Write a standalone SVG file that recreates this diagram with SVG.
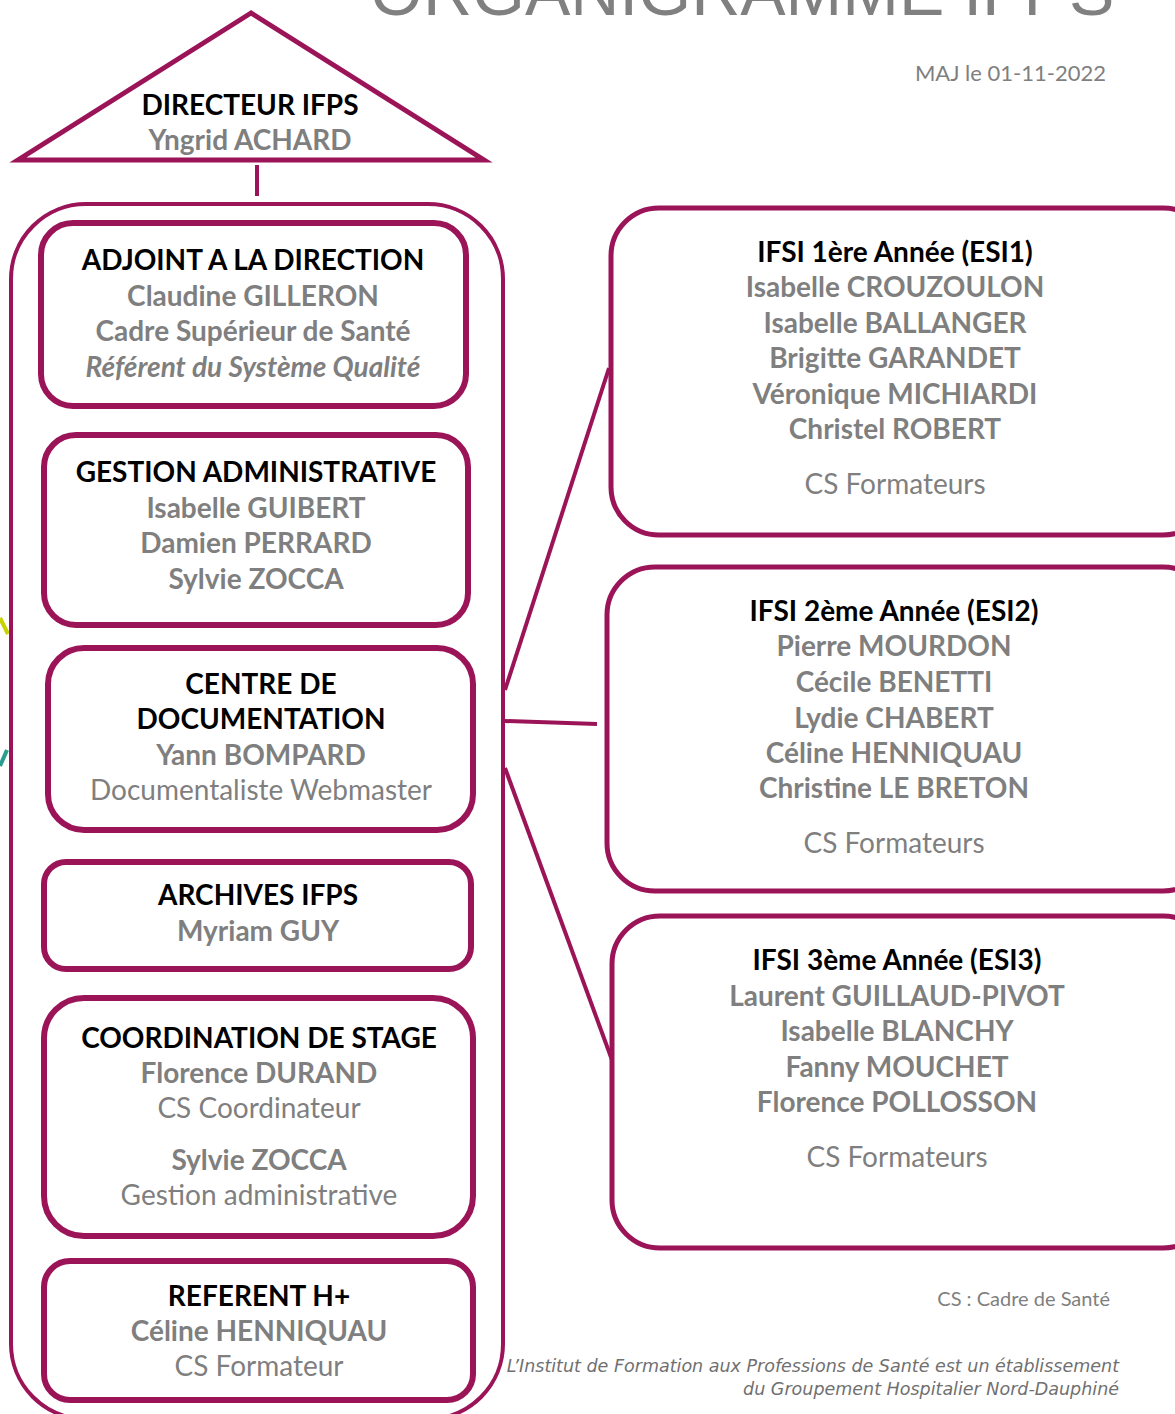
<svg xmlns="http://www.w3.org/2000/svg" width="1175" height="1414" viewBox="0 0 1175 1414">
<style>
.box{fill:#fff;stroke:#9B1458;stroke-width:6}
.outer{fill:none;stroke:#9B1458;stroke-width:4}
.rbox{fill:#fff;stroke:#9B1458;stroke-width:5}
.conn{stroke:#9B1458;stroke-width:4;fill:none}
text{font-family:Lato,"Open Sans","Liberation Sans",sans-serif;text-anchor:middle;font-size:28px}
.t{fill:#000;font-weight:bold}
.n{fill:#7f7f7f;font-weight:bold}
.r{fill:#7f7f7f;font-weight:normal}
.i{fill:#7f7f7f;font-weight:bold;font-style:italic}
</style>
<rect width="1175" height="1414" fill="#fff"/>
<text x="370" y="15" style="font-family:'Liberation Sans',Arial,sans-serif;font-size:68px;text-anchor:start;fill:#808080">ORGANIGRAMME IFPS</text>
<text x="1106" y="81" class="r" style="text-anchor:end;font-size:22px">MAJ le 01-11-2022</text>
<line x1="0" y1="618" x2="8" y2="634" stroke="#C8D400" stroke-width="4"/>
<line x1="0" y1="766" x2="7" y2="750" stroke="#2A9D8F" stroke-width="4"/>
<g id="connectors">
<line class="conn" x1="257" y1="165" x2="257" y2="196"/>
<line class="conn" x1="505" y1="690" x2="609" y2="368"/>
<line class="conn" x1="505" y1="721" x2="597" y2="724"/>
<line class="conn" x1="505" y1="768" x2="612" y2="1060"/>
</g>
<g id="directeur">
<polygon points="251,13 18,160 484,160" fill="#fff" stroke="#9B1458" stroke-width="5"/>
<text x="250" y="115" class="t">DIRECTEUR IFPS</text>
<text x="250" y="150" class="n">Yngrid ACHARD</text>
</g>
<g id="services">
<rect class="outer" x="11" y="204" width="492" height="1215" rx="75"/>
</g>
<g id="adjoint">
<rect class="box" x="41" y="223" width="425" height="183" rx="32"/>
<text x="253" y="270" class="t">ADJOINT A LA DIRECTION</text>
<text x="253" y="306" class="n">Claudine GILLERON</text>
<text x="253" y="341" class="n">Cadre Supérieur de Santé</text>
<text x="253" y="377" class="i">Référent du Système Qualité</text>
</g>
<g id="gestion">
<rect class="box" x="44" y="435" width="424" height="190" rx="32"/>
<text x="256" y="482" class="t">GESTION ADMINISTRATIVE</text>
<text x="256" y="518" class="n">Isabelle GUIBERT</text>
<text x="256" y="553" class="n">Damien PERRARD</text>
<text x="256" y="589" class="n">Sylvie ZOCCA</text>
</g>
<g id="documentation">
<rect class="box" x="48" y="648" width="425" height="182" rx="36"/>
<text x="261" y="694" class="t">CENTRE DE</text>
<text x="261" y="729" class="t">DOCUMENTATION</text>
<text x="261" y="765" class="n">Yann BOMPARD</text>
<text x="261" y="800" class="r">Documentaliste Webmaster</text>
</g>
<g id="archives">
<rect class="box" x="44" y="862" width="427" height="107" rx="22"/>
<text x="258" y="905" class="t">ARCHIVES IFPS</text>
<text x="258" y="941" class="n">Myriam GUY</text>
</g>
<g id="coordination">
<rect class="box" x="44" y="998" width="429" height="238" rx="40"/>
<text x="259" y="1048" class="t">COORDINATION DE STAGE</text>
<text x="259" y="1083" class="n">Florence DURAND</text>
<text x="259" y="1118" class="r">CS Coordinateur</text>
<text x="259" y="1170" class="n">Sylvie ZOCCA</text>
<text x="259" y="1205" class="r">Gestion administrative</text>
</g>
<g id="referent">
<rect class="box" x="44" y="1261" width="429" height="139" rx="26"/>
<text x="259" y="1306" class="t">REFERENT H+</text>
<text x="259" y="1341" class="n">Céline HENNIQUAU</text>
<text x="259" y="1376" class="r">CS Formateur</text>
</g>
<g id="esi1">
<rect class="rbox" x="611" y="208" width="600" height="327" rx="48"/>
<text x="895" y="262" class="t">IFSI 1ère Année (ESI1)</text>
<text x="895" y="297" class="n">Isabelle CROUZOULON</text>
<text x="895" y="333" class="n">Isabelle BALLANGER</text>
<text x="895" y="368" class="n">Brigitte GARANDET</text>
<text x="895" y="404" class="n">Véronique MICHIARDI</text>
<text x="895" y="439" class="n">Christel ROBERT</text>
<text x="895" y="494" class="r">CS Formateurs</text>
</g>
<g id="esi2">
<rect class="rbox" x="607" y="567" width="604" height="324" rx="48"/>
<text x="894" y="621" class="t">IFSI 2ème Année (ESI2)</text>
<text x="894" y="656" class="n">Pierre MOURDON</text>
<text x="894" y="692" class="n">Cécile BENETTI</text>
<text x="894" y="728" class="n">Lydie CHABERT</text>
<text x="894" y="763" class="n">Céline HENNIQUAU</text>
<text x="894" y="798" class="n">Christine LE BRETON</text>
<text x="894" y="853" class="r">CS Formateurs</text>
</g>
<g id="esi3">
<rect class="rbox" x="612" y="916" width="599" height="332" rx="48"/>
<text x="897" y="970" class="t">IFSI 3ème Année (ESI3)</text>
<text x="897" y="1006" class="n">Laurent GUILLAUD-PIVOT</text>
<text x="897" y="1041" class="n">Isabelle BLANCHY</text>
<text x="897" y="1077" class="n">Fanny MOUCHET</text>
<text x="897" y="1112" class="n">Florence POLLOSSON</text>
<text x="897" y="1167" class="r">CS Formateurs</text>
</g>
<text x="1110" y="1306" class="r" style="text-anchor:end;font-size:20px">CS : Cadre de Santé</text>
<text x="1119" y="1372" style="text-anchor:end;font-size:17.5px;font-style:italic;fill:#707070;font-family:'DejaVu Sans',sans-serif">L’Institut de Formation aux Professions de Santé est un établissement</text>
<text x="1119" y="1395" style="text-anchor:end;font-size:17.5px;font-style:italic;fill:#707070;font-family:'DejaVu Sans',sans-serif">du Groupement Hospitalier Nord-Dauphiné</text>
</svg>
